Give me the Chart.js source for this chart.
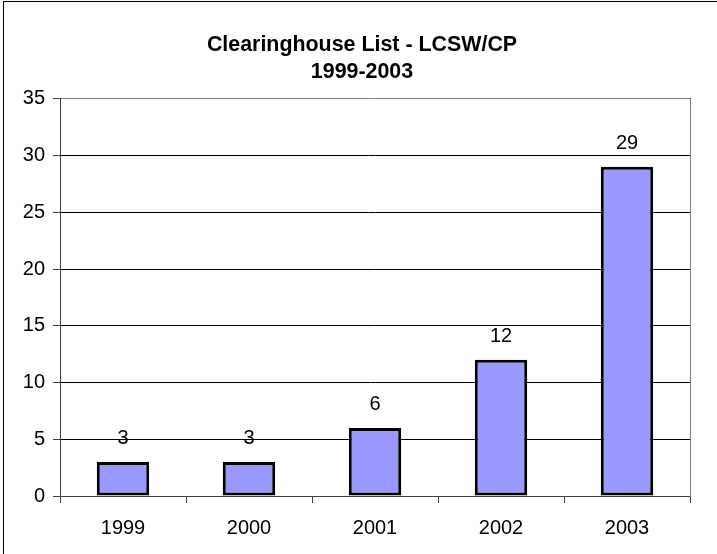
<!DOCTYPE html>
<html>
<head>
<meta charset="utf-8">
<script src="https://cdn.jsdelivr.net/npm/chart.js@4.4.1/dist/chart.umd.min.js"></script>
<style>
  html, body { margin: 0; padding: 0; background: #fff; }
  #wrap { width: 717px; height: 554px; }
</style>
</head>
<body>
<div id="wrap"><canvas id="chart" width="717" height="554"></canvas></div>
<script>
// chart data
const years = ["1999", "2000", "2001", "2002", "2003"];
const counts = [3, 3, 6, 12, 29];
const titleLines = ["Clearinghouse List - LCSW/CP", "1999-2003"];
const yMin = 0, yMax = 35, yStep = 5;

const FONT = "'Liberation Sans', Arial, sans-serif";

// white background + the outer frame of the chart object
const framePlugin = {
  id: "frame",
  beforeDraw(chart) {
    const c = chart.ctx;
    c.save();
    c.fillStyle = "#fff";
    c.fillRect(0, 0, chart.width, chart.height);
    c.strokeStyle = "#000";
    c.lineWidth = 1;
    c.strokeRect(3.5, 1.5, chart.width + 10, chart.height + 10);
    c.restore();
  }
};

// value labels above each bar
const valueLabels = {
  id: "valueLabels",
  afterDatasetsDraw(chart) {
    const c = chart.ctx;
    const meta = chart.getDatasetMeta(0);
    c.save();
    c.font = "20px " + FONT;
    c.fillStyle = "#000";
    c.textAlign = "center";
    c.textBaseline = "middle";
    meta.data.forEach((bar, i) => {
      c.fillText(String(counts[i]), bar.x, bar.y - 23);
    });
    c.restore();
  }
};

const ctx = document.getElementById("chart").getContext("2d");
new Chart(ctx, {
  type: "bar",
  data: {
    labels: years,
    datasets: [{
      data: counts,
      backgroundColor: "#9999FF",
      borderColor: "#000",
      borderWidth: 3,
      borderSkipped: false,
      categoryPercentage: 0.8,
      barPercentage: 0.52
    }]
  },
  options: {
    responsive: false,
    animation: false,
    layout: { padding: { left: 7, right: 0, top: 0, bottom: 0 } },
    plugins: {
      legend: { display: false },
      tooltip: { enabled: false },
      title: {
        display: true,
        text: titleLines,
        color: "#000",
        font: { family: FONT, size: 21.4, weight: "bold", lineHeight: 1.25 },
        padding: { top: 32, bottom: 13.25 }
      }
    },
    scales: {
      x: {
        afterFit(scale) { scale.height = 58; },
        grid: {
          offset: true,
          drawOnChartArea: false,
          drawTicks: true,
          tickLength: 7,
          tickColor: "#404040"
        },
        border: { color: "#404040", width: 1 },
        ticks: {
          color: "#000",
          font: { family: FONT, size: 20 },
          padding: 13,
          maxRotation: 0
        }
      },
      y: {
        min: yMin,
        max: yMax,
        afterFit(scale) { scale.width = 53; },
        grid: {
          color: (c) => (c.tick && c.tick.value === yMax ? "#808080" : "#000"),
          tickColor: "#404040",
          tickLength: 7,
          lineWidth: 1
        },
        border: { color: "#404040", width: 1 },
        ticks: {
          stepSize: yStep,
          color: "#000",
          padding: 8,
          font: { family: FONT, size: 20 }
        }
      },
      // empty right-hand axis: gives the grey right edge of the plot area
      yRight: {
        position: "right",
        min: yMin,
        max: yMax,
        afterFit(scale) { scale.width = 27; },
        grid: { display: false },
        ticks: { display: false },
        border: { color: "#808080", width: 1 }
      }
    }
  },
  plugins: [framePlugin, valueLabels]
});
</script>
</body>
</html>
